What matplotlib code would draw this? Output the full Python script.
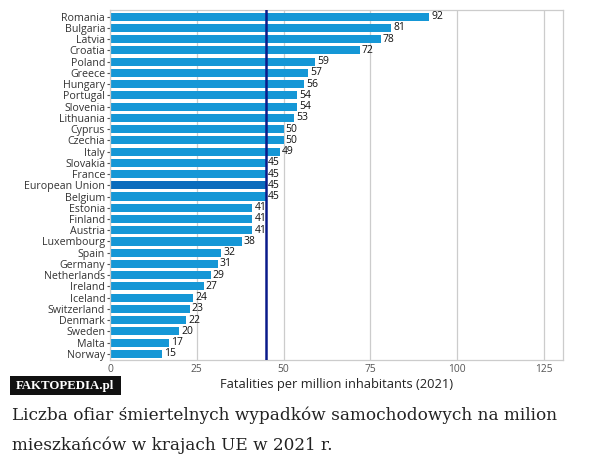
import matplotlib
matplotlib.use("Agg")
import matplotlib.pyplot as plt

countries = ["Romania", "Bulgaria", "Latvia", "Croatia", "Poland", "Greece", "Hungary",
             "Portugal", "Slovenia", "Lithuania", "Cyprus", "Czechia", "Italy", "Slovakia",
             "France", "European Union", "Belgium", "Estonia", "Finland", "Austria",
             "Luxembourg", "Spain", "Germany", "Netherlands", "Ireland", "Iceland",
             "Switzerland", "Denmark", "Sweden", "Malta", "Norway"]
values = [92, 81, 78, 72, 59, 57, 56, 54, 54, 53, 50, 50, 49, 45, 45, 45, 45, 41, 41, 41,
          38, 32, 31, 29, 27, 24, 23, 22, 20, 17, 15]
eu_average = 45
x_ticks = [0, 25, 50, 75, 100, 125]
x_label = "Fatalities per million inhabitants (2021)"
brand = "FAKTOPEDIA.pl"
caption_lines = ["Liczba ofiar śmiertelnych wypadków samochodowych na milion",
                 "mieszkańców w krajach UE w 2021 r."]

fig = plt.figure(figsize=(6.0, 4.69), dpi=100)
ax = fig.add_axes([110/600, 1-360/469, (563-110)/600, 350/469])

colors = ["#0b6cbd" if c == "European Union" else "#1597d6" for c in countries]
ypos = list(range(len(countries)))
ax.barh(ypos, values, height=0.72, color=colors, zorder=2)
ax.set_ylim(len(countries) - 0.45, -0.6)
ax.set_xlim(0, 130.5)
ax.set_yticks(ypos)
ax.set_yticklabels(countries, fontsize=7.7, color="#333333", family="Open Sans")
ax.set_xticks(x_ticks)
ax.set_xticklabels([str(t) for t in x_ticks], fontsize=7.4, color="#555555", family="Open Sans")
ax.tick_params(axis="y", length=2.5, width=0.8, color="#555555", pad=1)
ax.tick_params(axis="x", length=0, pad=3)
ax.grid(axis="x", color="#cccccc", linewidth=0.9, zorder=0)
for s in ax.spines.values():
    s.set_color("#cccccc")
    s.set_linewidth(0.9)

for y, v in zip(ypos, values):
    ax.text(v + 0.6, y, str(v), va="center", ha="left", fontsize=7.5,
            color="#111111", family="Open Sans", zorder=4)

ax.axvline(eu_average, color="#0a1a8a", linewidth=1.8, zorder=3)

ax.set_xlabel(x_label, fontsize=9.3, color="#222222", family="Open Sans", labelpad=2)

fig.patches.append(plt.Rectangle((10/600, 1-395/469), 111/600, 19/469,
                                 transform=fig.transFigure, facecolor="#111111",
                                 edgecolor="none"))
fig.text(65/600, 1-386/469, brand, fontsize=9.3, color="white", weight="bold",
         family="Liberation Serif", va="center", ha="center")

fig.text(12/600, 1-420/469, caption_lines[0], fontsize=12.2, color="#222222",
         family="DejaVu Serif", va="baseline", ha="left")
fig.text(12/600, 1-450/469, caption_lines[1], fontsize=12.2, color="#222222",
         family="DejaVu Serif", va="baseline", ha="left")

fig.savefig("out.png", dpi=100)
